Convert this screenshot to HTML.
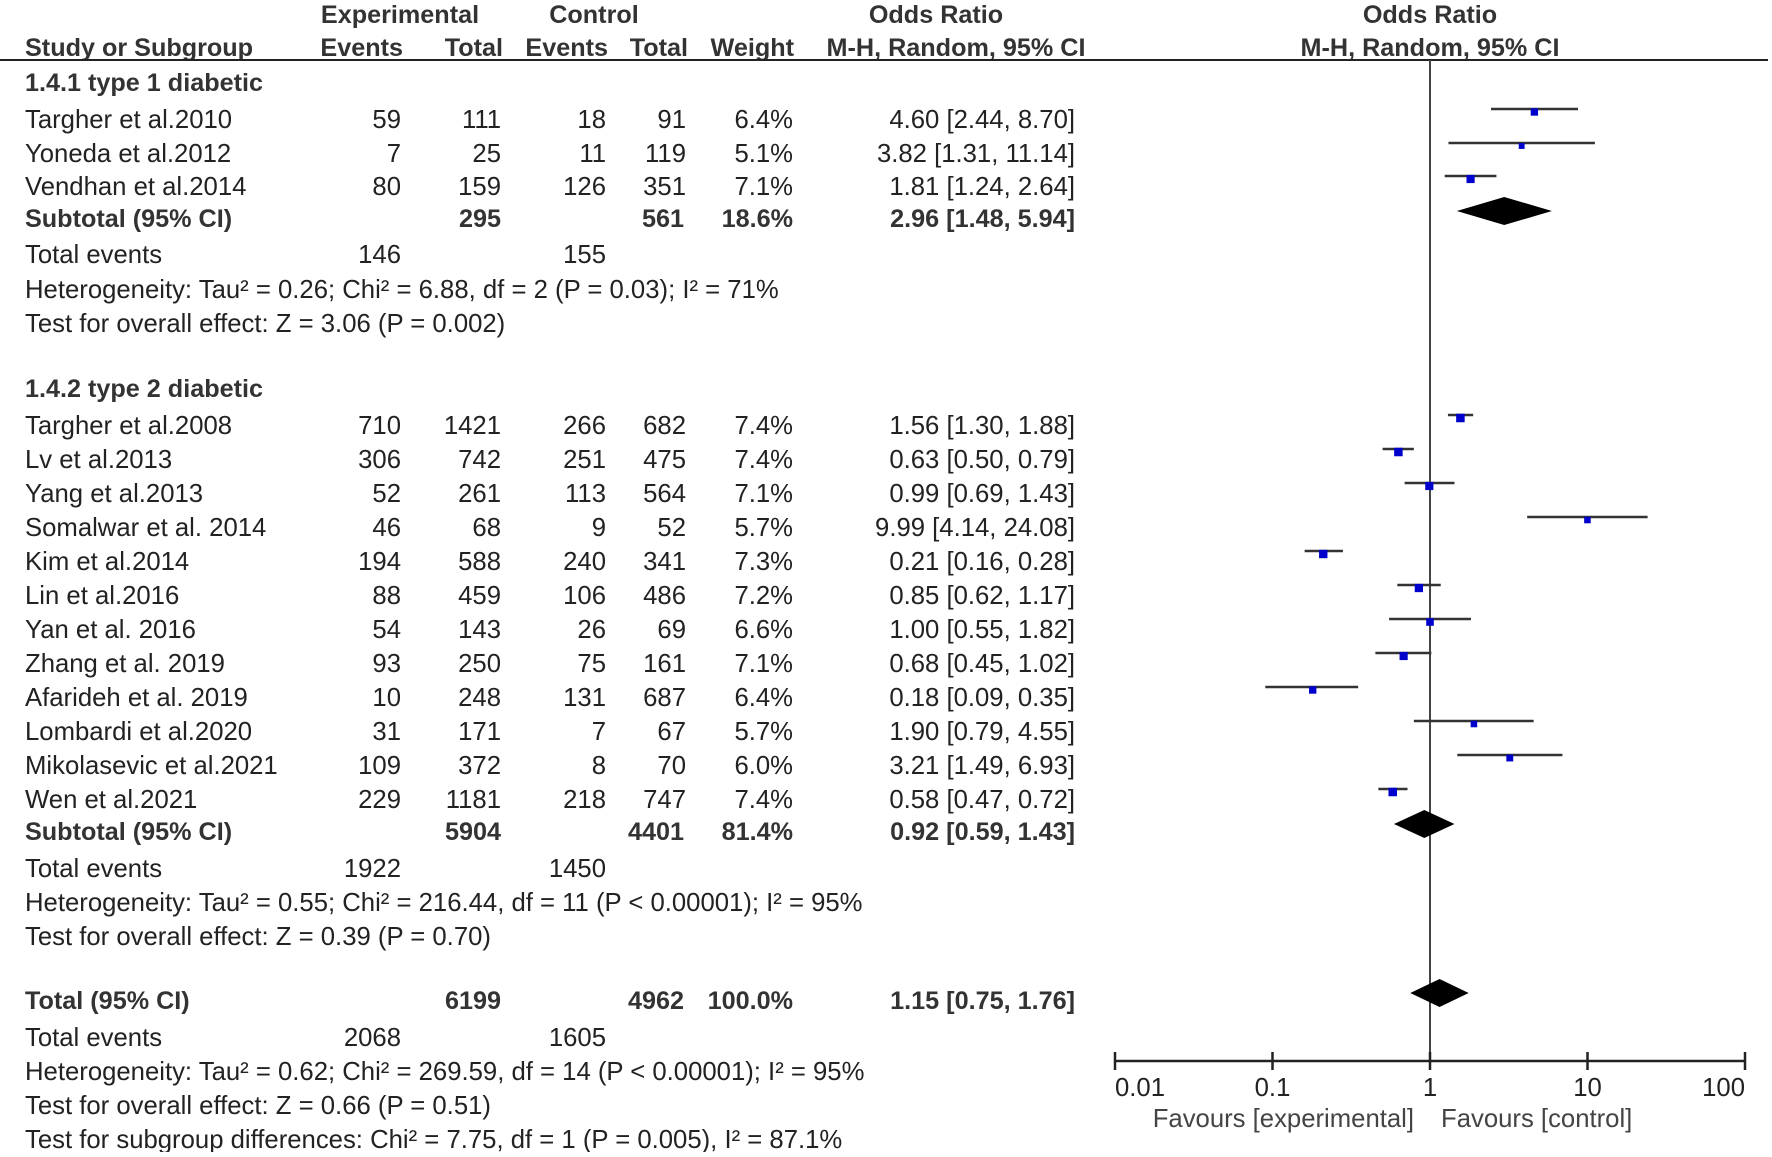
<!DOCTYPE html>
<html><head><meta charset="utf-8"><style>
html,body{margin:0;padding:0;background:#fff;}
svg text{font-family:"Liberation Sans",Arial,sans-serif;font-size:25.7px;fill:#222;}
svg text.b{font-weight:bold;fill:#333;font-size:25.2px;}
</style></head><body>
<svg id="chart" width="1772" height="1152" viewBox="0 0 1772 1152" xmlns="http://www.w3.org/2000/svg">
<g id="hdr">
<text class="b" x="400" y="23" text-anchor="middle">Experimental</text>
<text class="b" x="594" y="23" text-anchor="middle">Control</text>
<text class="b" x="936" y="23" text-anchor="middle">Odds Ratio</text>
<text class="b" x="1430" y="23" text-anchor="middle">Odds Ratio</text>
<text class="b" x="25" y="56">Study or Subgroup</text>
<text class="b" x="403" y="56" text-anchor="end">Events</text>
<text class="b" x="503" y="56" text-anchor="end">Total</text>
<text class="b" x="608" y="56" text-anchor="end">Events</text>
<text class="b" x="688" y="56" text-anchor="end">Total</text>
<text class="b" x="794" y="56" text-anchor="end">Weight</text>
<text class="b" x="956" y="56" text-anchor="middle">M-H, Random, 95% CI</text>
<text class="b" x="1430" y="56" text-anchor="middle">M-H, Random, 95% CI</text>
<line x1="0" y1="60" x2="1768" y2="60" stroke="#222" stroke-width="2"/>
</g>
<g id="rows"></g>
<g id="plot"></g>
</svg>
<script>
// study data
const studyNames = ["Targher et al.2010","Yoneda et al.2012","Vendhan et al.2014","Targher et al.2008","Lv et al.2013","Yang et al.2013","Somalwar et al. 2014","Kim et al.2014","Lin et al.2016","Yan et al. 2016","Zhang et al. 2019","Afarideh et al. 2019","Lombardi et al.2020","Mikolasevic et al.2021","Wen et al.2021"];
const expEvents = [59,7,80,710,306,52,46,194,88,54,93,10,31,109,229];
const expTotal = [111,25,159,1421,742,261,68,588,459,143,250,248,171,372,1181];
const ctlEvents = [18,11,126,266,251,113,9,240,106,26,75,131,7,8,218];
const ctlTotal = [91,119,351,682,475,564,52,341,486,69,161,687,67,70,747];
const weights = [6.4,5.1,7.1,7.4,7.4,7.1,5.7,7.3,7.2,6.6,7.1,6.4,5.7,6.0,7.4];
const orValues = [4.60,3.82,1.81,1.56,0.63,0.99,9.99,0.21,0.85,1.00,0.68,0.18,1.90,3.21,0.58];
const ciLow = [2.44,1.31,1.24,1.30,0.50,0.69,4.14,0.16,0.62,0.55,0.45,0.09,0.79,1.49,0.47];
const ciHigh = [8.70,11.14,2.64,1.88,0.79,1.43,24.08,0.28,1.17,1.82,1.02,0.35,4.55,6.93,0.72];
// pooled estimates
const pooledLabels = ["Subtotal (95% CI)","Subtotal (95% CI)","Total (95% CI)"];
const pooledExpTotal = [295,5904,6199];
const pooledCtlTotal = [561,4401,4962];
const pooledWeight = ["18.6%","81.4%","100.0%"];
const pooledOR = [2.96,0.92,1.15];
const pooledLow = [1.48,0.59,0.75];
const pooledHigh = [5.94,1.43,1.76];
const axisTicks = [0.01,0.1,1,10,100];
const axisTickLabels = ["0.01","0.1","1","10","100"];

const NS="http://www.w3.org/2000/svg";
const rows=document.getElementById('rows'), plot=document.getElementById('plot');
const x0=1430, dec=157.5;
function xs(v){return x0+dec*Math.log10(v);}
function T(parent,x,y,s,anchor,cls,name){
  const t=document.createElementNS(NS,'text');
  t.setAttribute('x',x);t.setAttribute('y',y);
  if(anchor)t.setAttribute('text-anchor',anchor);
  if(cls)t.setAttribute('class',cls);
  t.textContent=s;
  
  
  parent.appendChild(t);return t;
}
const fmt=v=>v.toFixed(2);
const studyY=[119,153,186].concat(Array.from({length:12},(_,i)=>425+i*34.0));
const pooledY=[218,831,1000];
T(rows,25,91,"1.4.1 type 1 diabetic",null,"b","subgroup-1-title");
T(rows,25,397,"1.4.2 type 2 diabetic",null,"b","subgroup-2-title");
studyNames.forEach((n,i)=>{
  const y=studyY[i]+9;
  T(rows,25,y,n,"start",null,"study-name");
  T(rows,401,y,expEvents[i],"end",null,"exp-events");
  T(rows,501,y,expTotal[i],"end",null,"exp-total");
  T(rows,606,y,ctlEvents[i],"end",null,"ctl-events");
  T(rows,686,y,ctlTotal[i],"end",null,"ctl-total");
  T(rows,793,y,weights[i].toFixed(1)+"%","end",null,"weight");
  T(rows,1075,y,fmt(orValues[i])+" ["+fmt(ciLow[i])+", "+fmt(ciHigh[i])+"]","end",null,"odds-ratio-ci");
  const cy=studyY[i]-10;
  const l=document.createElementNS(NS,'line');
  l.setAttribute('x1',xs(ciLow[i]));l.setAttribute('x2',xs(ciHigh[i]));
  l.setAttribute('y1',cy);l.setAttribute('y2',cy);
  l.setAttribute('stroke','#333');l.setAttribute('stroke-width','2.5');
  
  
  plot.appendChild(l);
  const s=weights[i]*1.15;
  const r=document.createElementNS(NS,'rect');
  r.setAttribute('x',xs(orValues[i])-s/2);r.setAttribute('y',cy+3-s/2);
  r.setAttribute('width',s);r.setAttribute('height',s);r.setAttribute('fill','#0000cc');
  
  
  plot.appendChild(r);
});
pooledLabels.forEach((n,i)=>{
  const y=pooledY[i]+9;
  T(rows,25,y,n,"start","b","pooled-label");
  T(rows,501,y,pooledExpTotal[i],"end","b","pooled-exp-total");
  T(rows,684,y,pooledCtlTotal[i],"end","b","pooled-ctl-total");
  T(rows,793,y,pooledWeight[i],"end","b","pooled-weight");
  T(rows,1075,y,fmt(pooledOR[i])+" ["+fmt(pooledLow[i])+", "+fmt(pooledHigh[i])+"]","end","b","pooled-odds-ratio");
  const cy=pooledY[i]-7;
  const p=document.createElementNS(NS,'polygon');
  p.setAttribute('points',xs(pooledLow[i])+','+cy+' '+xs(pooledOR[i])+','+(cy-14)+' '+xs(pooledHigh[i])+','+cy+' '+xs(pooledOR[i])+','+(cy+14));
  p.setAttribute('fill','#000');
  
  
  plot.appendChild(p);
});
const extra=[
 [254,"Total events"],[289,"Heterogeneity: Tau² = 0.26; Chi² = 6.88, df = 2 (P = 0.03); I² = 71%"],[323,"Test for overall effect: Z = 3.06 (P = 0.002)"],
 [868,"Total events"],[902,"Heterogeneity: Tau² = 0.55; Chi² = 216.44, df = 11 (P < 0.00001); I² = 95%"],[936,"Test for overall effect: Z = 0.39 (P = 0.70)"],
 [1037,"Total events"],[1071,"Heterogeneity: Tau² = 0.62; Chi² = 269.59, df = 14 (P < 0.00001); I² = 95%"],[1105,"Test for overall effect: Z = 0.66 (P = 0.51)"],
 [1139,"Test for subgroup differences: Chi² = 7.75, df = 1 (P = 0.005), I² = 87.1%"]];
extra.forEach(e=>T(rows,25,e[0]+9,e[1],"start",null,"summary-text"));
const evY=[254,868,1037], evExp=[146,1922,2068], evCtl=[155,1450,1605];
evY.forEach((y,i)=>{T(rows,401,y+9,evExp[i],"end",null,"total-events-exp");T(rows,606,y+9,evCtl[i],"end",null,"total-events-ctl");});
const ax=1061;
const vl=document.createElementNS(NS,'line');
vl.setAttribute('x1',xs(1));vl.setAttribute('x2',xs(1));vl.setAttribute('y1',60);vl.setAttribute('y2',ax);
vl.setAttribute('stroke','#444');vl.setAttribute('stroke-width','2');


plot.insertBefore(vl,plot.firstChild);
const al=document.createElementNS(NS,'line');
al.setAttribute('x1',xs(axisTicks[0]));al.setAttribute('x2',xs(axisTicks[axisTicks.length-1]));al.setAttribute('y1',ax);al.setAttribute('y2',ax);
al.setAttribute('stroke','#222');al.setAttribute('stroke-width','2.5');


plot.appendChild(al);
axisTicks.forEach((v,i)=>{
  const t=document.createElementNS(NS,'line');
  t.setAttribute('x1',xs(v));t.setAttribute('x2',xs(v));t.setAttribute('y1',ax-9);t.setAttribute('y2',ax+9);
  t.setAttribute('stroke','#222');t.setAttribute('stroke-width','2.5');
  
  
  plot.appendChild(t);
  const anc=i===0?"start":(i===axisTicks.length-1?"end":"middle");
  T(plot,xs(v),1096,axisTickLabels[i],anc,null,"x-tick-label");
});
const f1=T(plot,1414,1127,"Favours [experimental]","end",null,"favours-experimental-label");
f1.setAttribute('style','fill:#444');
const f2=T(plot,1441,1127,"Favours [control]","start",null,"favours-control-label");
f2.setAttribute('style','fill:#444');
</script>
</body></html>
